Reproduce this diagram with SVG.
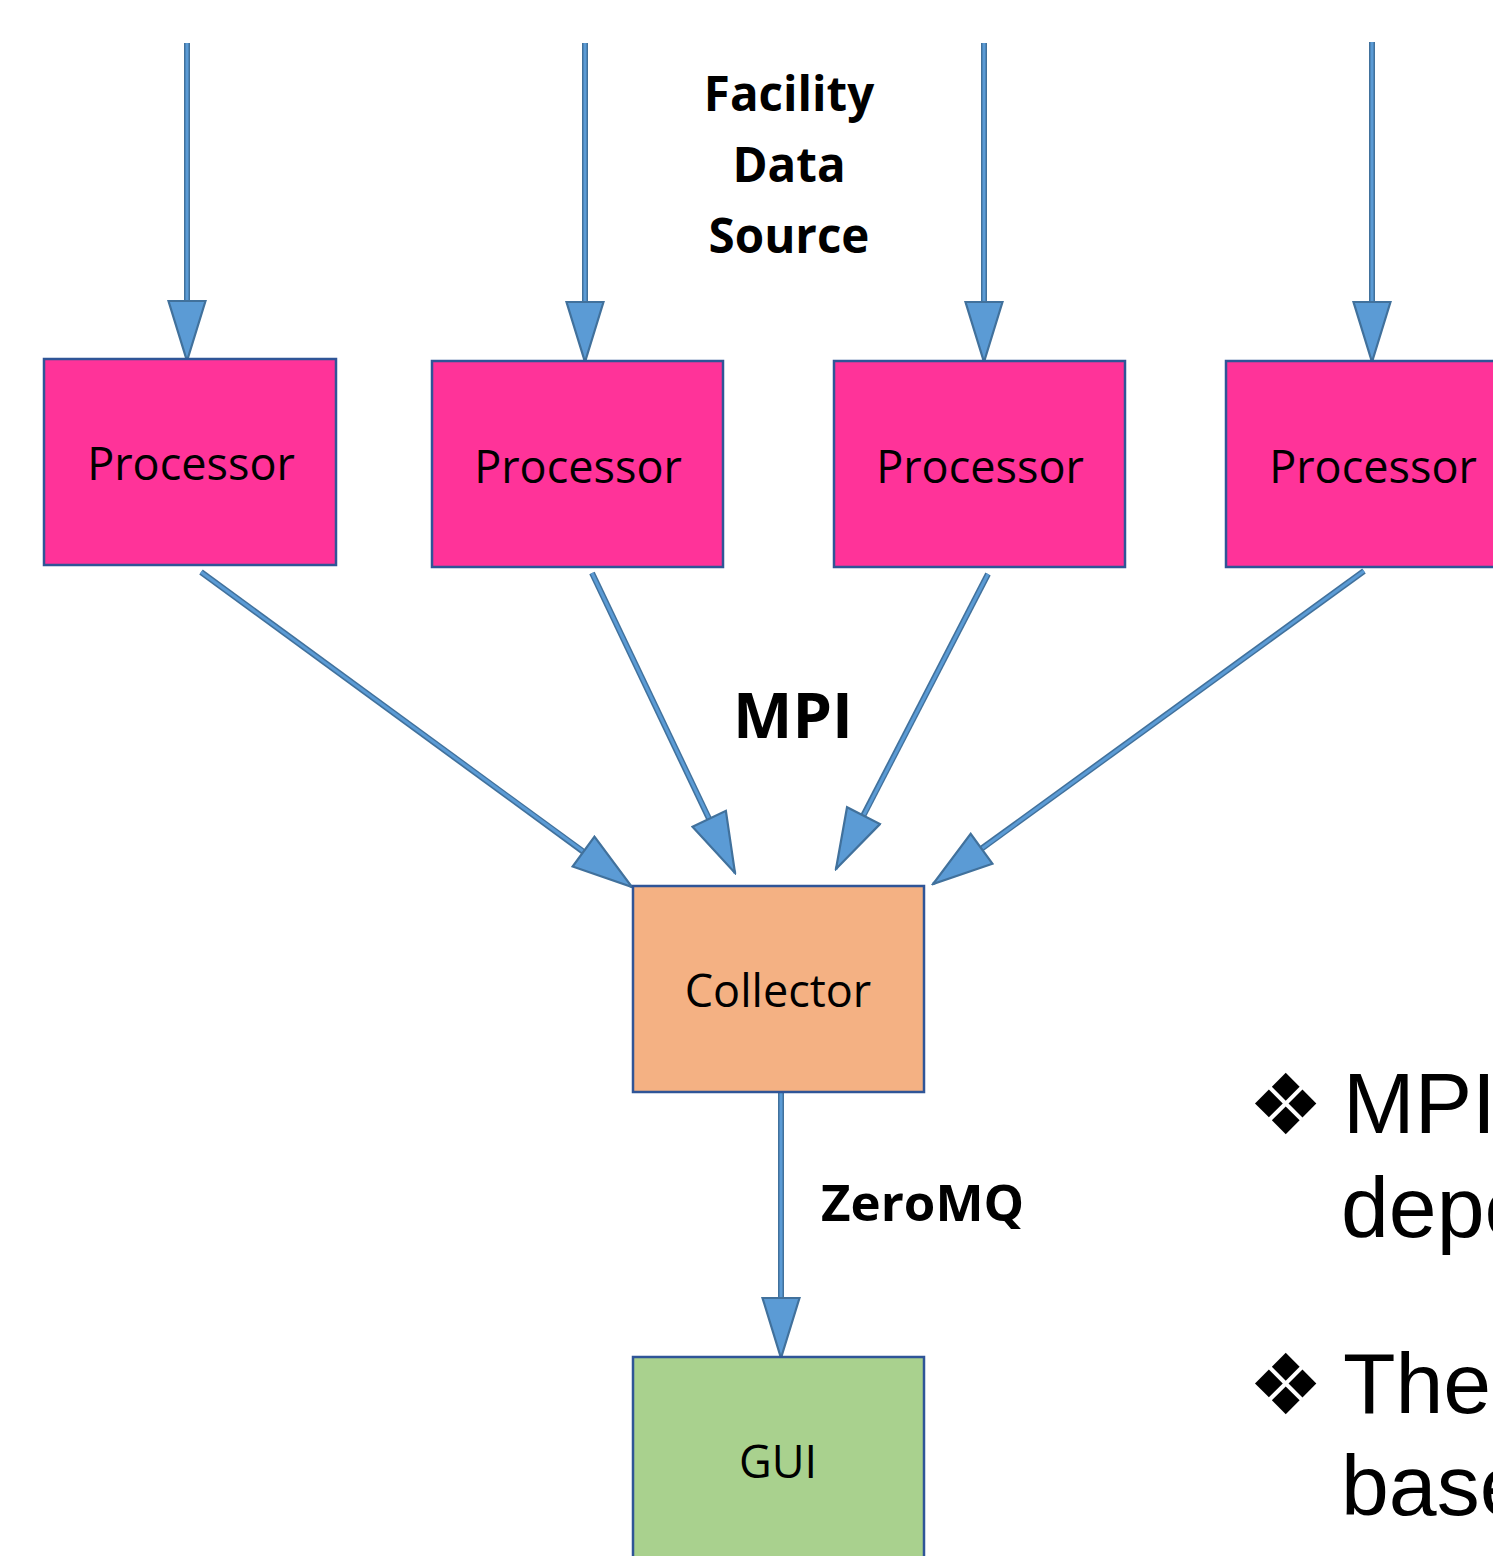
<svg xmlns="http://www.w3.org/2000/svg" width="1493" height="1556" viewBox="0 0 1493 1556">
<style>
.box{stroke:#2F5597;stroke-width:2.5}
.proc{fill:#FF3399}
.coll{fill:#F4B183}
.gui{fill:#A9D18E}
.lbl{font-family:"Open Sans","Noto Sans",sans-serif;font-size:45px;fill:#000;text-anchor:middle}
.bold{font-family:"Open Sans","Noto Sans",sans-serif;font-weight:bold;fill:#000}
.shaftO{stroke:#41719C;stroke-width:6;fill:none}
.shaftI{stroke:#5B9BD5;stroke-width:3;fill:none}
.side{font-family:"Liberation Sans",Arial,sans-serif;font-size:86px;fill:#000}
.bul{font-family:"DejaVu Sans",sans-serif;font-size:84px;fill:#000}
</style>
<defs>
<marker id="head" markerUnits="userSpaceOnUse" viewBox="0 0 64 40" markerWidth="64" markerHeight="40" refX="62" refY="20" orient="auto">
<path d="M2,1.5 L62,20 L2,38.5 Z" fill="#5B9BD5" stroke="#41719C" stroke-width="2.2" stroke-linejoin="miter"/>
</marker>
</defs>
<g id="connectors">
<line class="shaftO" x1="187" y1="43" x2="187" y2="305"/><line class="shaftI" x1="187" y1="43" x2="187" y2="361" marker-end="url(#head)"/>
<line class="shaftO" x1="585" y1="43" x2="585" y2="305"/><line class="shaftI" x1="585" y1="43" x2="585" y2="362" marker-end="url(#head)"/>
<line class="shaftO" x1="984" y1="43" x2="984" y2="305"/><line class="shaftI" x1="984" y1="43" x2="984" y2="362" marker-end="url(#head)"/>
<line class="shaftO" x1="1372" y1="42" x2="1372" y2="305"/><line class="shaftI" x1="1372" y1="42" x2="1372" y2="362" marker-end="url(#head)"/>
<line class="shaftO" x1="201" y1="572" x2="585" y2="853"/><line class="shaftI" x1="201" y1="572" x2="632" y2="887" marker-end="url(#head)"/>
<line class="shaftO" x1="592" y1="573" x2="712" y2="825"/><line class="shaftI" x1="592" y1="573" x2="735" y2="873" marker-end="url(#head)"/>
<line class="shaftO" x1="988" y1="574" x2="862" y2="818"/><line class="shaftI" x1="988" y1="574" x2="836" y2="869" marker-end="url(#head)"/>
<line class="shaftO" x1="1364" y1="571" x2="981" y2="849"/><line class="shaftI" x1="1364" y1="571" x2="933" y2="884" marker-end="url(#head)"/>
<line class="shaftO" x1="781" y1="1092" x2="781" y2="1300"/><line class="shaftI" x1="781" y1="1092" x2="781" y2="1358" marker-end="url(#head)"/>
</g>
<g id="proc1"><rect class="box proc" x="44" y="359" width="292" height="206"/><text class="lbl" x="191" y="480">Processor</text></g>
<g id="proc2"><rect class="box proc" x="432" y="361" width="291" height="206"/><text class="lbl" x="578" y="483">Processor</text></g>
<g id="proc3"><rect class="box proc" x="834" y="361" width="291" height="206"/><text class="lbl" x="980" y="483">Processor</text></g>
<g id="proc4"><rect class="box proc" x="1226" y="361" width="300" height="206"/><text class="lbl" x="1373" y="483">Processor</text></g>
<g id="collector"><rect class="box coll" x="633" y="886" width="291" height="206"/><text class="lbl" x="778" y="1007">Collector</text></g>
<g id="gui"><rect class="box gui" x="633" y="1357" width="291" height="220"/><text class="lbl" x="778" y="1478">GUI</text></g>
<g id="labels">
<text class="bold" font-size="47.5" text-anchor="middle" x="789" y="111">Facility</text>
<text class="bold" font-size="47.5" text-anchor="middle" x="789" y="182">Data</text>
<text class="bold" font-size="47.5" text-anchor="middle" x="789" y="253">Source</text>
<text class="bold" font-size="63" x="733" y="738">MPI</text>
<text class="bold" font-size="51" x="821" y="1221">ZeroMQ</text>
</g>
<g id="sidetext">
<text class="bul" x="1248" y="1134">❖</text>
<text class="side" x="1343" y="1133">MPI</text>
<text class="side" x="1341" y="1237">depe</text>
<text class="bul" x="1248" y="1414">❖</text>
<text class="side" x="1343" y="1413">The</text>
<text class="side" x="1341" y="1515">base</text>
</g>
</svg>
